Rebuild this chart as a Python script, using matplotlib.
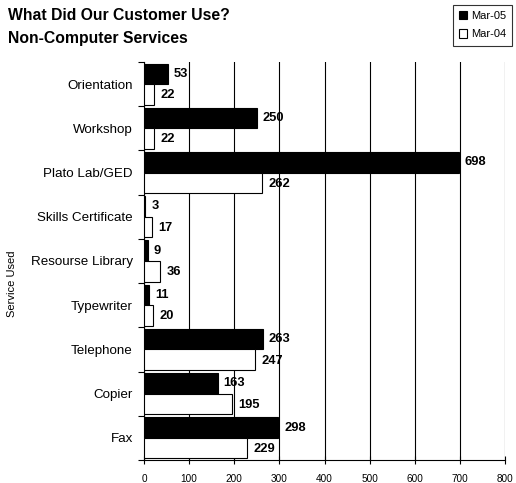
import matplotlib
matplotlib.use("Agg")
import matplotlib.pyplot as plt
import numpy as np

plt.rcParams['font.family'] = ['Liberation Sans', 'DejaVu Sans']

categories = ["Orientation", "Workshop", "Plato Lab/GED", "Skills Certificate",
              "Resourse Library", "Typewriter", "Telephone", "Copier", "Fax"]
mar05 = [53, 250, 698, 3, 9, 11, 263, 163, 298]
mar04 = [22, 22, 262, 17, 36, 20, 247, 195, 229]
xticks = [0, 100, 200, 300, 400, 500, 600, 700, 800]

fig = plt.figure(figsize=(5.16, 4.83), dpi=100)
ax = fig.add_axes([144/516, 1-460/483, (505-144)/516, (460-62)/483])

n = len(categories)
y = np.arange(n)
h = 0.465
ax.barh(y - h/2, mar05, height=h, color='black', edgecolor='black', linewidth=0.8, label='Mar-05', zorder=3)
ax.barh(y + h/2, mar04, height=h, color='white', edgecolor='black', linewidth=0.8, label='Mar-04', zorder=3)

for i in range(n):
    ax.text(mar05[i] + 13, y[i] - h/2, str(mar05[i]), va='center', ha='left',
            fontsize=9.3, fontweight='bold', zorder=4)
    ax.text(mar04[i] + 14, y[i] + h/2 + 0.02, str(mar04[i]), va='center', ha='left',
            fontsize=9.3, fontweight='bold', zorder=4)

ax.set_xlim(0, 800)
ax.set_ylim(n - 0.5, -0.5)
ax.set_xticks(xticks)
ax.set_xticklabels([str(t) for t in xticks], fontsize=7.2)
ax.tick_params(axis='x', direction='inout', length=5.5, width=0.8, pad=7)
ax.xaxis.grid(True, color='black', linewidth=0.8, zorder=0)
ax.set_axisbelow(True)

ax.set_yticks(y)
ax.set_yticklabels(categories, fontsize=9.6)
ax.tick_params(axis='y', length=0, pad=8)
ax.set_yticks(np.arange(-0.5, n, 1.0), minor=True)
ax.tick_params(axis='y', which='minor', direction='out', length=4, width=0.8)

for s in ['top', 'right']:
    ax.spines[s].set_visible(False)
ax.spines['left'].set_linewidth(0.8)
ax.spines['bottom'].set_linewidth(0.8)

fig.text(12/516, 1-284/483, "Service Used", fontsize=8, rotation=90, va='center', ha='center')

fig.text(8/516, 1-15/483, "What Did Our Customer Use?", fontsize=11.3, fontweight='bold', va='center', ha='left')
fig.text(8/516, 1-39/483, "Non-Computer Services", fontsize=11.3, fontweight='bold', va='center', ha='left')

leg = fig.legend(loc='upper right', bbox_to_anchor=(512/516, 1-5/483), fontsize=8,
                 frameon=True, fancybox=False, edgecolor='black', handlelength=0.75,
                 handleheight=0.75, handletextpad=0.3, borderpad=0.55, labelspacing=0.75,
                 borderaxespad=0)
leg.get_frame().set_linewidth(0.8)

fig.savefig("out.png", dpi=100)
